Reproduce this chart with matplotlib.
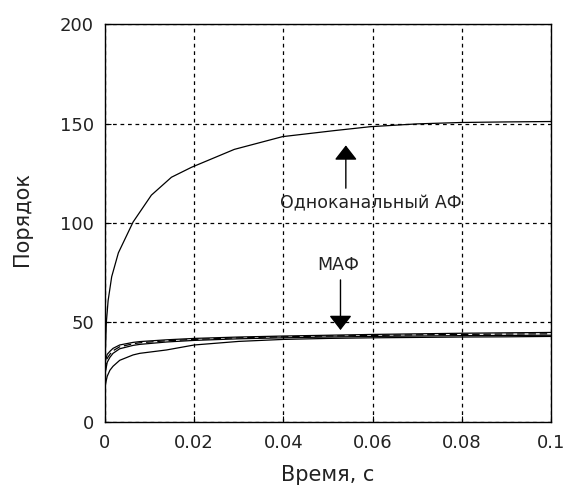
import matplotlib
matplotlib.use("Agg")
import matplotlib.pyplot as plt

plt.rcParams["font.family"] = ["DejaVu Sans"]

# single-channel adaptive filter order
t_single = [0.0, 0.0003, 0.0007, 0.0015, 0.003, 0.0063, 0.0104, 0.0149, 0.0194,
            0.029, 0.0398, 0.0513, 0.0595, 0.0699, 0.0796, 0.09, 0.1]
n_single = [30, 50, 61, 73, 85, 100.5, 114, 123, 128,
            137, 143.4, 146.4, 148.4, 149.8, 150.5, 150.8, 151]

# multichannel filter orders (several channels)
t_maf = [0.0, 0.0005, 0.0011, 0.0018, 0.0033, 0.0063, 0.0078, 0.0138, 0.02,
         0.03, 0.04, 0.05, 0.06, 0.07, 0.08, 0.09, 0.1]
n_maf1 = [30, 34, 35.5, 37, 38.7, 40, 40.4, 41.3, 42, 42.7, 43.2, 43.6, 44, 44.3, 44.6, 44.8, 45]
n_maf2 = [26, 32, 34, 35.8, 37.8, 39.3, 39.8, 40.8, 41.5, 42.3, 42.8, 43.2, 43.5, 43.8, 44, 44.2, 44.3]
n_maf3 = [24, 30, 32.5, 34.5, 36.8, 38.5, 39, 40.2, 41, 41.8, 42.3, 42.7, 43, 43.2, 43.4, 43.5, 43.6]
n_maf4 = [18, 23, 26, 28, 31, 33.7, 34.5, 36.2, 38.7, 40.5, 41.5, 42, 42.3, 42.5, 42.7, 42.8, 43]

x_ticks = [0, 0.02, 0.04, 0.06, 0.08, 0.1]
x_labels = ["0", "0.02", "0.04", "0.06", "0.08", "0.1"]
y_ticks = [0, 50, 100, 150, 200]

fig = plt.figure(figsize=(5.66, 4.9), dpi=100)
ax = fig.add_axes([0.1855, 0.1388, 0.788, 0.8122])

ax.plot(t_single, n_single, color="black", lw=0.9)
ax.plot(t_maf, n_maf1, color="black", lw=0.9)
ax.plot(t_maf, n_maf2, color="black", lw=0.9, ls=(0, (6, 3)))
ax.plot(t_maf, n_maf3, color="black", lw=0.9)
ax.plot(t_maf, n_maf4, color="black", lw=0.9)

ax.set_xlim(0, 0.1)
ax.set_ylim(0, 200)
ax.set_xticks(x_ticks)
ax.set_xticklabels(x_labels)
ax.set_yticks(y_ticks)
ax.tick_params(direction="in", length=4, labelsize=13, width=0.8,
               labelcolor="#222222")
ax.tick_params(axis="x", pad=9)
ax.tick_params(axis="y", pad=8)
ax.grid(True, color="black", ls=(0, (3, 3)), lw=0.9)
for s in ax.spines.values():
    s.set_linewidth(1.0)

ax.set_xlabel("Время, с", fontsize=15, labelpad=9, color="#222222")
ax.set_ylabel("Порядок", fontsize=15, color="#222222")
ax.yaxis.set_label_coords(-0.163, 0.51)

ax.annotate("", xy=(0.054, 139), xytext=(0.054, 117.5),
            arrowprops=dict(arrowstyle="-|>,head_length=0.9,head_width=0.7",
                            color="black", lw=1.0, shrinkA=0, shrinkB=0))
ax.text(0.0596, 110, "Одноканальный АФ", fontsize=12.5, ha="center", va="center",
        color="#222222")
ax.annotate("", xy=(0.0528, 46.2), xytext=(0.0528, 71.4),
            arrowprops=dict(arrowstyle="-|>,head_length=0.9,head_width=0.7",
                            color="black", lw=1.0, shrinkA=0, shrinkB=0))
ax.text(0.0522, 79, "МАФ", fontsize=12.5, ha="center", va="center",
        color="#222222")

fig.savefig("out.png", dpi=100)
